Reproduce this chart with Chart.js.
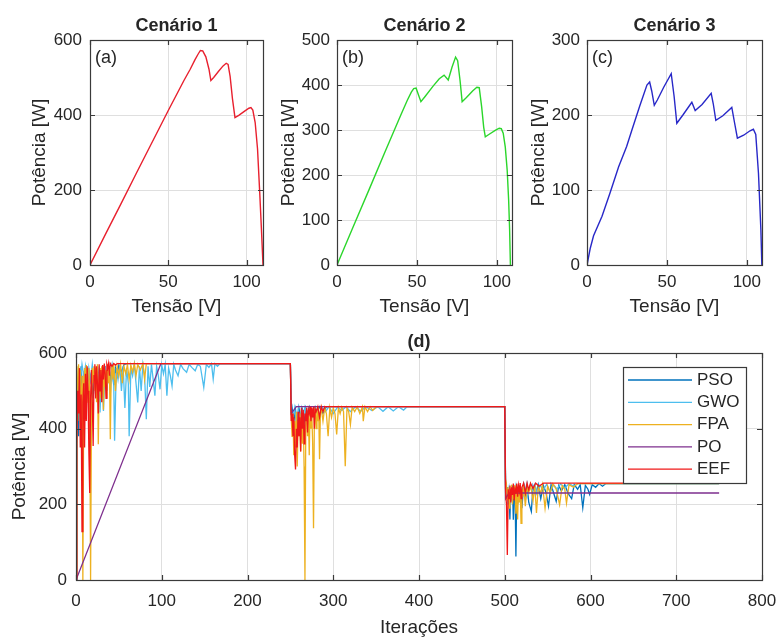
<!DOCTYPE html>
<html>
<head>
<meta charset="utf-8">
<title>Cenários</title>
<script src="https://cdn.jsdelivr.net/npm/chart.js@4.4.1/dist/chart.umd.min.js"></script>
<style>
    html, body { margin: 0; padding: 0; background: #fff; }
    #page { position: relative; width: 779px; height: 639px; overflow: hidden; }
    canvas { position: absolute; }
</style>
</head>
<body>
<div id="page">
    <canvas id="chartA" width="275" height="318" style="left:0;top:0"></canvas>
    <canvas id="chartB" width="249" height="318" style="left:270px;top:0"></canvas>
    <canvas id="chartC" width="259" height="318" style="left:520px;top:0"></canvas>
    <canvas id="chartD" width="779" height="319" style="left:0;top:320px"></canvas>
</div>
<script>
// P-V curves, [tensão V, potência W]
const curve1 = [[0,0],[10,83],[20,165],[30,248],[40,330],[50,412],[60,492],[64,522],[67,547],[69,562],[70.5,572],[72,571],[74,555],[76,522],[77.2,492],[79,500],[82,516],[85,531],[87,538],[88.2,535],[89.5,503],[91,443],[92.6,393],[95,399],[99,411],[101.5,418],[102.8,420],[104,413],[105.5,380],[107,310],[108.5,185],[109.5,95],[110.5,0]];
const curve2 = [[0,0],[10,84],[20,167],[30,251],[40,334],[44,366],[46.5,384],[48,392],[49.5,393],[51,378],[52.5,363],[55,374],[60,397],[64,414],[67,422],[69.6,411],[72,440],[74.2,462],[75.5,454],[77,410],[78.3,363],[81,372],[85,387],[87.5,395],[89,394],[90.5,352],[91.8,306],[92.8,285],[95,290],[99,299],[101.5,304],[102.8,303],[104,293],[105.3,262],[106.5,210],[107.4,144],[108,80],[108.5,0]];
const curve3 = [[0,0],[2,22],[4.1,39],[9.4,65],[14.4,96],[19.8,131],[24.8,158],[28.1,180],[33,212],[37.5,240],[39.2,244],[40.5,232],[42.1,213],[44,220],[48,237],[52.7,255],[54.5,225],[56.2,189],[60,200],[65.6,217],[67.7,206],[72,214],[77.7,229],[79,215],[80.6,193],[85,199],[90.6,210],[92.3,190],[94.1,169],[98,173],[102,179],[104.1,181],[105.6,174],[107.3,122],[108.8,47],[109.4,0]];

// convergence traces, [iteração, potência W]
const psoTrace = [[0,0],[1,450],[2,520],[3,380],[4,555],[5,500],[6,565],[8,470],[10,540],[12,500],[14,560],[16,520],[18,545],[20,480],[22,560],[24,510],[26,550],[28,470],[30,560],[32,520],[34,565],[36,500],[38,555],[40,530],[42,565],[44,515],[46,560],[48,540],[50,568],[53,550],[56,570],[60,572],[250,572],
    [251,440],[252,455],[254,420],[256,450],[258,400],[260,455],[262,430],[264,450],[266,415],[268,455],[270,440],[272,457],[275,430],[278,455],[281,445],[284,458],[288,440],[292,458],[500,458],
    [501,240],[502,215],[503,245],[504,200],[505,235],[506,160],[507,240],[508,210],[509,250],[510,159],[511,230],[512,245],[513,62],[514,240],[515,200],[516,250],[517,215],[518,245],[520,190],[522,250],[524,225],[526,252],[528,205],[531,181],[533,248],[536,225],[539,252],[542,215],[545,250],[548,232],[551,195],[554,252],[557,230],[560,208],[563,250],[566,235],[570,252],[574,228],[578,215],[581,252],[585,240],[588,252],[591,191],[594,250],[597,240],[599,226],[602,252],[606,245],[610,255],[614,248],[618,255],[750,255]];
const gwoTrace = [[0,0],[1,300],[2,500],[3,560],[5,520],[7,570],[9,540],[11,565],[13,500],[15,560],[17,530],[19,570],[21,520],[23,560],[25,500],[27,565],[28,443],[30,560],[32,447],[34,565],[36,520],[38,560],[40,490],[42,568],[44,520],[45,368],[47,560],[49,530],[51,568],[53,500],[55,565],[57,455],[59,560],[61,520],[62,380],[64,560],[66,540],[68,570],[70,520],[72,469],[74,565],[76,500],[78,570],[80,540],[82,425],[84,565],[86,510],[88,570],[90,530],[92,487],[94,565],[96,540],[98,504],[100,568],[102,545],[104,570],[106,487],[108,560],[110,540],[112,513],[114,570],[116,555],[119,540],[122,570],[125,558],[129,549],[132,570],[135,562],[139,553],[142,570],[145,565],[149,509],[152,570],[155,562],[158,572],[160,531],[162,572],[165,565],[168,572],[250,572],
    [251,450],[253,430],[255,455],[257,410],[259,450],[261,420],[263,455],[265,435],[267,457],[270,425],[273,455],[276,440],[279,458],[283,430],[287,456],[291,445],[295,458],[300,440],[305,457],[310,448],[315,458],[320,445],[326,458],[332,446],[338,458],[345,448],[352,458],[358,446],[364,458],[370,447],[376,458],[382,449],[386,458],[500,458],
    [501,250],[503,220],[505,245],[507,205],[509,240],[511,225],[513,250],[515,215],[517,245],[520,235],[523,252],[526,220],[529,248],[532,235],[535,252],[538,225],[541,250],[545,238],[549,253],[553,232],[557,252],[561,240],[565,254],[570,243],[575,255],[580,248],[586,255],[750,255]];
const fpaTrace = [[0,10],[1,565],[2,420],[3,570],[4,520],[5,555],[6,380],[7,540],[8,0],[9,470],[10,560],[11,520],[12,568],[13,540],[14,470],[15,560],[16,500],[17,0],[18,420],[19,560],[20,520],[21,565],[22,500],[23,560],[24,470],[25,570],[26,359],[27,530],[28,560],[29,480],[30,565],[31,540],[32,450],[33,568],[34,510],[35,555],[36,480],[37,570],[38,520],[39,560],[40,372],[41,540],[42,565],[43,530],[44,568],[46,500],[48,565],[50,540],[52,570],[54,520],[56,565],[58,545],[60,570],[62,530],[64,568],[66,550],[68,572],[70,540],[72,570],[75,555],[78,572],[80,530],[82,572],[250,572],
    [251,430],[252,380],[253,440],[254,330],[255,420],[256,350],[257,445],[258,300],[259,420],[260,380],[261,440],[262,340],[263,450],[264,360],[265,430],[266,300],[267,0],[268,420],[269,450],[270,380],[271,440],[272,330],[273,455],[274,400],[275,440],[276,360],[277,137],[278,430],[279,455],[280,400],[281,450],[282,420],[283,455],[284,319],[285,440],[286,455],[288,420],[290,455],[292,440],[294,380],[296,455],[298,430],[300,455],[302,440],[304,385],[306,455],[308,440],[310,457],[312,445],[314,301],[316,455],[318,445],[320,411],[322,457],[325,445],[328,458],[331,440],[334,458],[335,420],[337,458],[340,445],[343,458],[346,448],[350,458],[500,458],
    [501,235],[502,250],[503,210],[504,245],[505,190],[506,240],[507,220],[508,252],[509,200],[510,240],[511,215],[512,250],[513,175],[514,235],[515,160],[516,245],[517,205],[518,250],[519,150],[520,240],[521,220],[522,252],[524,195],[526,245],[528,230],[530,252],[533,210],[535,250],[537,177],[539,245],[542,230],[544,252],[547,190],[550,248],[553,230],[556,254],[560,240],[564,199],[567,250],[570,240],[572,203],[575,252],[580,245],[585,255],[750,255]];
const poTrace = [[0,0],[99,572],[250,572],[251,440],[257,458],[500,458],[501,215],[505,230],[750,230]];
const eefTrace = [[0,0],[1,362],[2,500],[3,440],[4,560],[5,350],[6,490],[7,128],[8,470],[9,520],[10,350],[11,545],[12,420],[13,565],[14,500],[15,340],[16,230],[17,480],[18,555],[19,470],[20,354],[21,540],[22,570],[23,480],[24,565],[25,520],[26,440],[27,570],[28,500],[29,555],[30,470],[31,568],[32,530],[33,572],[34,545],[35,480],[36,570],[37,560],[38,572],[39,540],[40,572],[42,565],[44,572],[46,568],[48,572],[250,572],
    [251,420],[252,440],[253,380],[254,430],[255,330],[256,292],[257,400],[258,350],[259,445],[260,380],[261,430],[262,340],[263,455],[264,400],[265,450],[266,360],[267,440],[268,420],[269,455],[270,390],[271,450],[272,440],[273,458],[274,420],[275,455],[276,430],[277,458],[278,400],[279,452],[280,445],[282,458],[284,430],[286,458],[288,445],[290,458],[500,458],
    [501,230],[502,200],[503,66],[504,240],[505,215],[506,250],[507,205],[508,245],[509,225],[510,255],[511,210],[512,240],[513,228],[514,255],[515,220],[516,250],[517,235],[518,256],[519,215],[520,245],[522,256],[524,230],[526,256],[528,238],[530,256],[533,242],[536,256],[540,248],[545,256],[750,256]];

const algoNames = ['PSO', 'GWO', 'FPA', 'PO', 'EEF'];
const algoColors = ['#0072BD', '#4DBEEE', '#EDB120', '#7E2F8E', '#F01818'];

const TEXT = '#262626';
const GRID = '#dfdfdf';
const AXIS = '#3a3a3a';
const FONT = '"Liberation Sans", Arial, Helvetica, sans-serif';

// MATLAB-like box, inward ticks, panel letter and legend
const matlabAxes = {
    id: 'matlabAxes',
    afterDatasetsDraw(chart, args, opts) {
        const ctx = chart.ctx;
        const area = chart.chartArea;
        const xs = chart.scales.x;
        const ys = chart.scales.y;
        const L = Math.round(area.left), R = Math.round(area.right);
        const T = Math.round(area.top), B = Math.round(area.bottom);
        ctx.save();
        ctx.strokeStyle = AXIS;
        ctx.lineWidth = 1.2;
        ctx.beginPath();
        xs.ticks.forEach(t => {
            const px = Math.round(xs.getPixelForValue(t.value)) + 0.5;
            ctx.moveTo(px, B); ctx.lineTo(px, B - 5);
            ctx.moveTo(px, T); ctx.lineTo(px, T + 5);
        });
        ys.ticks.forEach(t => {
            const py = Math.round(ys.getPixelForValue(t.value)) + 0.5;
            ctx.moveTo(L, py); ctx.lineTo(L + 5, py);
            ctx.moveTo(R, py); ctx.lineTo(R - 5, py);
        });
        ctx.stroke();
        ctx.strokeRect(L + 0.5, T + 0.5, R - L, B - T);

        if (opts.label) {
            ctx.fillStyle = TEXT;
            ctx.font = '18px ' + FONT;
            ctx.textBaseline = 'middle';
            ctx.textAlign = 'left';
            ctx.fillText(opts.label, L + 5, T + 18);
        }

        if (opts.legend) {
            const bw = 123, bh = 116;
            const bx = R - 16 - bw, by = T + 14;
            ctx.fillStyle = '#fff';
            ctx.fillRect(bx, by, bw, bh);
            ctx.strokeStyle = AXIS;
            ctx.lineWidth = 1.2;
            ctx.strokeRect(bx + 0.5, by + 0.5, bw, bh);
            ctx.font = '17px ' + FONT;
            ctx.textBaseline = 'middle';
            chart.data.datasets.forEach((ds, i) => {
                const yy = by + 13 + i * 22.3;
                ctx.strokeStyle = ds.borderColor;
                ctx.lineWidth = 1.3;
                ctx.beginPath();
                ctx.moveTo(bx + 5, yy);
                ctx.lineTo(bx + 69, yy);
                ctx.stroke();
                ctx.fillStyle = TEXT;
                ctx.fillText(ds.label, bx + 74, yy);
            });
        }
        ctx.restore();
    }
};

function toPoints(pairs) {
    return pairs.map(p => ({ x: p[0], y: p[1] }));
}

// keep the x axis from reserving room for overhanging tick labels
function fixXHeight(h) {
    return function(scale) {
        scale.height = h;
        scale.paddingLeft = 0;
        scale.paddingRight = 0;
    };
}

function makePvChart(id, cfg) {
    return new Chart(document.getElementById(id).getContext('2d'), {
        type: 'line',
        data: {
            datasets: [{
                data: toPoints(cfg.curve),
                borderColor: cfg.color,
                borderWidth: 1.4,
                pointRadius: 0,
                tension: 0,
                fill: false
            }]
        },
        options: {
            responsive: false,
            animation: false,
            devicePixelRatio: 1,
            layout: { padding: { left: cfg.padLeft, right: cfg.padRight, top: 0, bottom: 0 } },
            plugins: {
                legend: { display: false },
                tooltip: { enabled: false },
                title: {
                    display: true,
                    text: cfg.title,
                    fullSize: false,
                    color: TEXT,
                    font: { family: FONT, size: 18, weight: 'bold' },
                    padding: { top: 15, bottom: 3.4 }
                },
                matlabAxes: { label: cfg.label }
            },
            scales: {
                x: {
                    type: 'linear',
                    min: 0,
                    max: cfg.xMax,
                    afterFit: fixXHeight(53),
                    ticks: { stepSize: 50, includeBounds: false, padding: 7, color: TEXT, font: { family: FONT, size: 17 } },
                    grid: { color: GRID, drawTicks: false },
                    border: { display: false },
                    title: { display: true, text: 'Tensão [V]', color: TEXT, font: { family: FONT, size: 19 }, padding: 0 }
                },
                y: {
                    type: 'linear',
                    min: 0,
                    max: cfg.yMax,
                    afterFit: function(scale) { scale.width = cfg.yWidth; },
                    ticks: { stepSize: cfg.yStep, includeBounds: false, padding: cfg.yPad, color: TEXT, font: { family: FONT, size: 17 } },
                    grid: { color: GRID, drawTicks: false },
                    border: { display: false },
                    title: { display: true, text: 'Potência [W]', color: TEXT, font: { family: FONT, size: 19 }, padding: 0 }
                }
            }
        },
        plugins: [matlabAxes]
    });
}

document.addEventListener('DOMContentLoaded', function() {
    if (typeof Chart === 'undefined') {
        console.error("Chart.js library is not loaded!");
        return;
    }

    try {
        makePvChart('chartA', { curve: curve1, color: '#E8202E', title: 'Cenário 1', label: '(a)',
            xMax: 110.5, yMax: 600, yStep: 200, padLeft: 28, padRight: 12, yWidth: 62, yPad: 8 });
        makePvChart('chartB', { curve: curve2, color: '#2BD62B', title: 'Cenário 2', label: '(b)',
            xMax: 109.5, yMax: 500, yStep: 100, padLeft: 7, padRight: 7, yWidth: 60, yPad: 7 });
        makePvChart('chartC', { curve: curve3, color: '#2828C8', title: 'Cenário 3', label: '(c)',
            xMax: 109.5, yMax: 300, yStep: 100, padLeft: 7, padRight: 17, yWidth: 60, yPad: 7 });

        // Convergence chart
        const traces = [psoTrace, gwoTrace, fpaTrace, poTrace, eefTrace];
        new Chart(document.getElementById('chartD').getContext('2d'), {
            type: 'line',
            data: {
                datasets: traces.map((tr, i) => ({
                    label: algoNames[i],
                    data: toPoints(tr),
                    borderColor: algoColors[i],
                    borderWidth: 1.3,
                    pointRadius: 0,
                    tension: 0,
                    fill: false,
                    order: traces.length - 1 - i
                }))
            },
            options: {
                responsive: false,
                animation: false,
                devicePixelRatio: 1,
                layout: { padding: { left: 8.6, right: 17, top: 0, bottom: 0 } },
                plugins: {
                    legend: { display: false },
                    tooltip: { enabled: false },
                    title: {
                        display: true,
                        text: '(d)',
                        fullSize: false,
                        color: TEXT,
                        font: { family: FONT, size: 18, weight: 'bold' },
                        padding: { top: 11.4, bottom: 0 }
                    },
                    matlabAxes: { legend: true }
                },
                scales: {
                    x: {
                        type: 'linear',
                        min: 0,
                        max: 800,
                        afterFit: fixXHeight(59),
                        ticks: { stepSize: 100, padding: 11, color: TEXT, font: { family: FONT, size: 17 } },
                        grid: { color: GRID, drawTicks: false },
                        border: { display: false },
                        title: { display: true, text: 'Iterações', color: TEXT, font: { family: FONT, size: 19 }, padding: 0 }
                    },
                    y: {
                        type: 'linear',
                        min: 0,
                        max: 600,
                        afterFit: function(scale) { scale.width = 67.4; },
                        ticks: { stepSize: 200, padding: 9, color: TEXT, font: { family: FONT, size: 17 } },
                        grid: { color: GRID, drawTicks: false },
                        border: { display: false },
                        title: { display: true, text: 'Potência [W]', color: TEXT, font: { family: FONT, size: 19 }, padding: 0 }
                    }
                }
            },
            plugins: [matlabAxes]
        });
    } catch (error) {
        console.error("Error initializing charts:", error);
    }
});
</script>
</body>
</html>
